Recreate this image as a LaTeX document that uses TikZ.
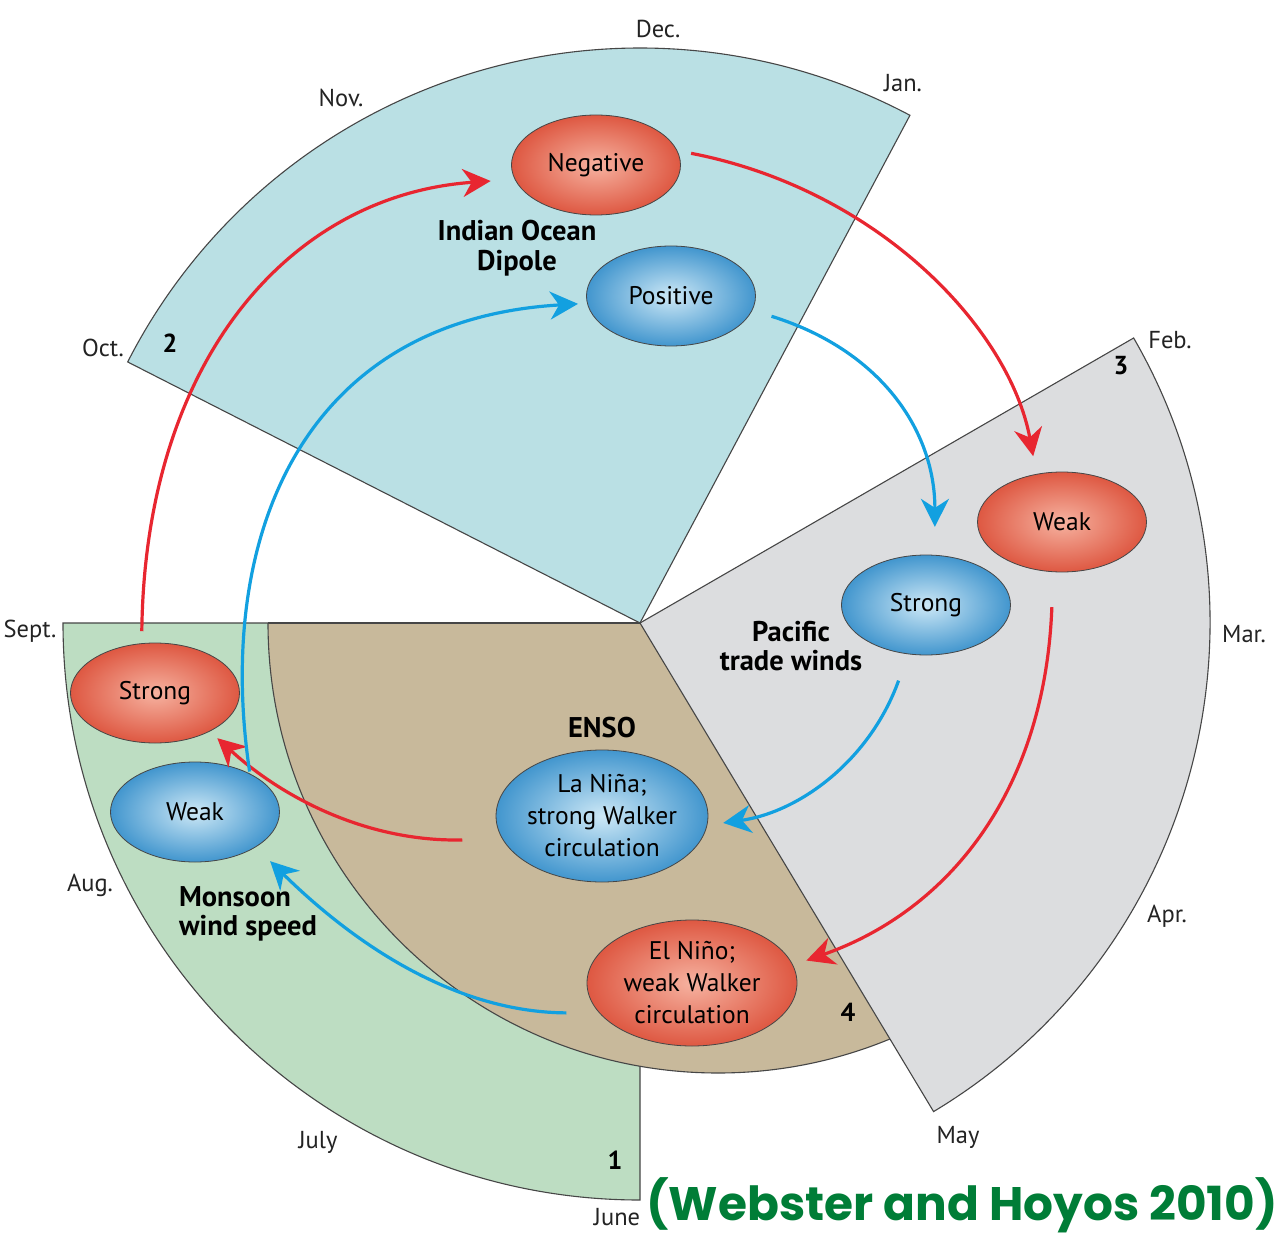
\documentclass[tikz,border=0pt]{standalone}
\usepackage{fontspec}
\setmainfont{PT Sans}
\newfontfamily\citefont{Poppins}
\usetikzlibrary{shapes.geometric,arrows.meta}

\begin{document}
\begin{tikzpicture}[x=1pt,y=-1pt,
    rim/.style={draw=rim_gray,line width=1.1pt},
    monthlbl/.style={font=\fontsize{24.5}{28}\selectfont,text=month_gray,inner sep=0pt},
    sectorno/.style={font=\bfseries\fontsize{26}{28}\selectfont,inner sep=0pt},
    titlelbl/.style={font=\bfseries\fontsize{28.5}{29.5}\selectfont,align=center,inner sep=0pt},
    ball/.style={shape=ellipse,draw=rim_gray,line width=0.8pt,minimum width=169pt,minimum height=100pt,inner sep=0pt,font=\fontsize{25.5}{32}\selectfont,align=center},
    redball/.style={ball,shade,inner color=ball_red_in,outer color=ball_red_out},
    blueball/.style={ball,shade,inner color=ball_blue_in,outer color=ball_blue_out},
    redflow/.style={draw=flow_red,line width=3.2pt,-{Stealth[length=28pt,width=28pt,inset=9pt]}},
    blueflow/.style={draw=flow_blue,line width=3.2pt,-{Stealth[length=28pt,width=28pt,inset=9pt]}}]
    \definecolor{monsoon_bg}{RGB}{189,221,194}
    \definecolor{iod_bg}{RGB}{186,224,228}
    \definecolor{pacific_bg}{RGB}{220,221,223}
    \definecolor{enso_bg}{RGB}{200,185,155}
    \definecolor{rim_gray}{RGB}{70,70,70}
    \definecolor{month_gray}{RGB}{35,35,35}
    \definecolor{ball_red_in}{RGB}{246,178,160}
    \definecolor{ball_red_out}{RGB}{222,88,66}
    \definecolor{ball_blue_in}{RGB}{205,232,246}
    \definecolor{ball_blue_out}{RGB}{66,150,206}
    \definecolor{flow_red}{RGB}{232,38,48}
    \definecolor{flow_blue}{RGB}{18,160,224}
    \definecolor{cite_green}{RGB}{0,125,55}
    \useasboundingbox (0,0) rectangle (1282,1238);
    \fill[white] (0,0) rectangle (1282,1238);
    \coordinate (hub) at (640,623);
    % sectors
    \fill[monsoon_bg] (hub) -- +(-180:577) arc[start angle=-180,end angle=-270,radius=577] -- cycle;
    \draw[rim] (hub) -- +(-180:577) arc[start angle=-180,end angle=-270,radius=577] -- cycle;
    \begin{scope}
    \clip (hub) -- +(-180:700) arc[start angle=-180,end angle=-301,radius=700] -- cycle;
    \fill[enso_bg] (718,623) circle[radius=450];
    \draw[rim] (718,623) circle[radius=450];
    \end{scope}
    \draw[rim] (268,623) -- (hub);
    \fill[pacific_bg] (hub) -- +(59:570) arc[start angle=59,end angle=-30,radius=570] -- cycle;
    \draw[rim] (hub) -- +(59:570) arc[start angle=59,end angle=-30,radius=570] -- cycle;
    \fill[iod_bg] (hub) -- +(-62:575) arc[start angle=-62,end angle=-153,radius=575] -- cycle;
    \draw[rim] (hub) -- +(-62:575) arc[start angle=-62,end angle=-153,radius=575] -- cycle;
    % months
    \node[monthlbl] (dec) at (658,29) {Dec.};
    \node[monthlbl] (jan) at (903,83) {Jan.};
    \node[monthlbl] (feb) at (1170,340) {Feb.};
    \node[monthlbl] (mar) at (1244,634) {Mar.};
    \node[monthlbl] (apr) at (1167,916) {Apr.};
    \node[monthlbl] (may) at (958,1137) {May};
    \node[monthlbl] (jun) at (617,1217) {June};
    \node[monthlbl] (jul) at (318,1142) {July};
    \node[monthlbl] (aug) at (90,885) {Aug.};
    \node[monthlbl] (sep) at (30,631) {Sept.};
    \node[monthlbl] (oct) at (103,348) {Oct.};
    \node[monthlbl] (nov) at (341,98) {Nov.};
    \node[sectorno] (no1) at (615,1160) {1};
    \node[sectorno] (no2) at (170,343) {2};
    \node[sectorno] (no3) at (1121,366) {3};
    \node[sectorno] (no4) at (848,1012) {4};
    % titles
    \node[titlelbl] (iod) at (517,248) {Indian Ocean\\Dipole};
    \node[titlelbl] (pacific) at (791,646) {Pacific\\trade winds};
    \node[titlelbl] (enso) at (602,728) {ENSO};
    \node[titlelbl,align=left] (monsoon) at (248,914) {Monsoon\\wind speed};
    % states
    \node[redball] (negative) at (596,165) {Negative};
    \node[blueball] (positive) at (671,296) {Positive};
    \node[redball] (weak_p) at (1062,522) {Weak};
    \node[blueball] (strong_p) at (926,605) {Strong};
    \node[redball] (strong_m) at (155,693) {Strong};
    \node[blueball] (weak_m) at (195,812) {Weak};
    \node[blueball,minimum width=210pt,minimum height=132pt] (la_nina) at (602,816) {La Niña;\\strong Walker\\circulation};
    \node[redball,minimum width=210pt,minimum height=126pt] (el_nino) at (692,983) {El Niño;\\weak Walker\\circulation};
    % red cycle
    \draw[redflow,shorten <=12pt,shorten >=24pt] (strong_m.105) .. controls (145,360) and (290,195) .. (negative.190);
    \draw[redflow,shorten <=14pt,shorten >=18pt] (negative.10) .. controls (880,190) and (1010,330) .. (weak_p.118);
    \draw[redflow,shorten <=35pt,shorten >=14pt] (weak_p.260) .. controls (1045,790) and (950,910) .. (el_nino.10);
    \draw[redflow,shorten <=40pt,shorten >=10pt] (la_nina.193) .. controls (370,842) and (285,800) .. (strong_m.-35);
    % blue cycle
    \draw[blueflow,shorten <=2pt,shorten >=9pt] (weak_m.35) .. controls (215,540) and (300,320) .. (positive.185);
    \draw[blueflow,shorten <=20pt,shorten >=28pt] (positive.-10) .. controls (880,350) and (935,430) .. (strong_p.80);
    \draw[blueflow,shorten <=28pt,shorten >=16pt] (strong_p.250) .. controls (870,760) and (800,812) .. (la_nina.-5);
    \draw[blueflow,shorten <=33pt,shorten >=20pt] (el_nino.198) .. controls (440,1012) and (335,925) .. (weak_m.-30);
    \node[font=\citefont\bfseries\fontsize{47}{47}\selectfont,text=cite_green,inner sep=0pt] (cite) at (962,1205) {(Webster and Hoyos 2010)};
\end{tikzpicture}
\end{document}
